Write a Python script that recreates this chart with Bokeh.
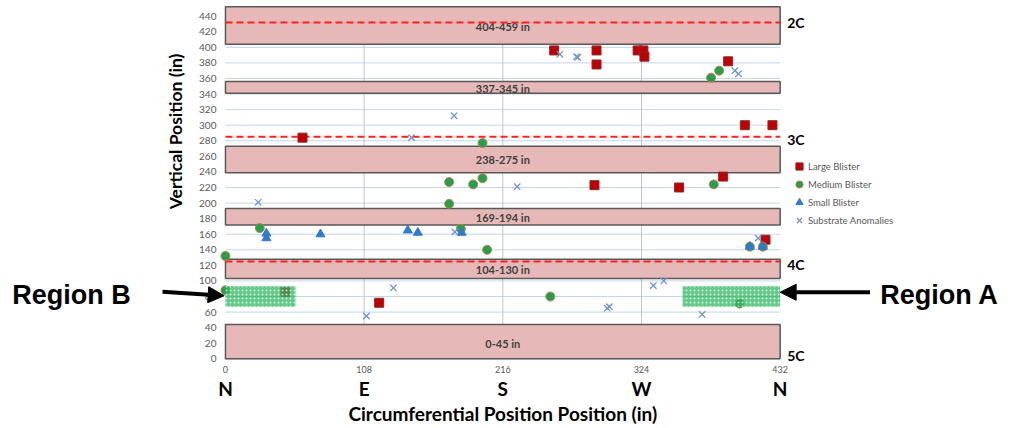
import math
from bokeh.plotting import figure
from bokeh.models import (Range1d, FixedTicker, LinearAxis, Label, Arrow, NormalHead,
                          Legend, LegendItem)
from bokeh.core.properties import value
from bokeh.embed import file_html
from bokeh.resources import INLINE

# ---------------- data ----------------
large_x = [60, 256, 289, 289, 321, 325.5, 326.3, 391.5, 404.5, 426, 287.4, 353.3, 387.6, 420.6, 119.7, 46.7]
large_y = [284, 396, 396, 378, 396, 396, 388, 382, 300, 300, 223, 220, 234, 153, 72, 86]

medium_x = [378.2, 384.5, 380.3, 174.2, 192.9, 200.2, 200.2, 174.2, 26.7, 0, 203.8, 183.3, 0, 253, 400.3, 408.4, 418.5]
medium_y = [361, 370, 224, 227, 224, 232, 277, 199, 168, 132, 140, 167, 88, 80, 71, 144, 144]

small_x = [31.9, 31.9, 74, 142, 149.8, 184, 408.4, 418.5]
small_y = [161, 155, 160, 165, 162, 162, 144, 144]

subst_x = [178, 144.9, 260.4, 273.4, 274.4, 396.7, 399.5, 227.2, 25.5, 178.6, 130.8, 109.8, 297.3, 299, 333.3, 341.4, 371.3, 414.9]
subst_y = [312, 284, 391, 388, 387, 370, 366, 221, 201, 163, 91, 55, 65, 67, 94, 100, 57, 155]

band_labels = ["404-459 in", "337-345 in", "238-275 in", "169-194 in", "104-130 in", "0-45 in"]
band_bottom = [404, 341, 239, 172, 103, 0]
band_top = [452, 356, 273, 193, 128, 44]
band_label_y = [427, 347, 256, 182, 115, 20]

dash_y = [432, 285, 125]

ring_ticks = [432, 282, 121, 4]
ring_labels = ["2C", "3C", "4C", "5C"]

x_ticks = [0, 108, 216, 324, 432]
x_dir_labels = ["N", "E", "S", "W", "N"]
x_grid = [108, 216, 324]
y_ticks = [0, 20, 40, 60, 80, 100, 120, 140, 160, 180, 200, 220, 240, 260, 280, 300,
           320, 340, 360, 380, 400, 420, 440]

region_names = ["Region B", "Region A"]
region_left = [0, 356]
region_right = [54.5, 432]
region_bottom = [67, 67]
region_top = [93.6, 93.6]

# ---------------- figure ----------------
X0, X1 = 0, 432
p = figure(width=1010, height=425, x_range=Range1d(-175.2, 611.4), y_range=Range1d(-85.6, 460.1),
           output_backend="svg", toolbar_location=None,
           x_axis_location=None, y_axis_location=None,
           min_border=0)
p.outline_line_color = None
p.background_fill_color = "white"
p.xgrid.visible = False
p.ygrid.visible = False


def plain(ax):
    ax.axis_line_color = None
    ax.major_tick_line_color = None
    ax.minor_tick_line_color = None
    ax.major_tick_out = 0
    ax.major_tick_in = 0
    ax.minor_tick_out = 0
    return ax


# y axis at x = 0
ya = plain(LinearAxis(ticker=FixedTicker(ticks=y_ticks), fixed_location=X0))
ya.major_label_standoff = 9
ya.major_label_text_font = "Lato"
ya.major_label_text_font_size = "10px"
ya.major_label_text_color = "#595959"
p.add_layout(ya, "left")

# x axis (numbers) at y = 0
xa = plain(LinearAxis(ticker=FixedTicker(ticks=x_ticks), fixed_location=0))
xa.major_label_standoff = 7
xa.major_label_text_font = "Lato"
xa.major_label_text_font_size = "9px"
xa.major_label_text_color = "#595959"
p.add_layout(xa, "below")

# x axis (compass letters)
xa2 = plain(LinearAxis(ticker=FixedTicker(ticks=x_ticks), fixed_location=-23,
                       major_label_overrides={t: l for t, l in zip(x_ticks, x_dir_labels)}))
xa2.major_label_standoff = 0
xa2.major_label_text_font = "Lato"
xa2.major_label_text_font_style = "bold"
xa2.major_label_text_font_size = "19px"
xa2.major_label_text_color = "black"
p.add_layout(xa2, "below")

# right axis (ring labels) at x = 432
ra = plain(LinearAxis(ticker=FixedTicker(ticks=ring_ticks), fixed_location=X1,
                      major_label_overrides={t: l for t, l in zip(ring_ticks, ring_labels)}))
ra.major_label_standoff = 7
ra.major_label_text_font = "Lato"
ra.major_label_text_font_style = "bold"
ra.major_label_text_font_size = "14px"
ra.major_label_text_color = "black"
p.add_layout(ra, "right")

# grid lines (only inside the 0..432 x 0..452 area)
p.segment(x0=[X0] * len(y_ticks), x1=[X1] * len(y_ticks), y0=y_ticks, y1=y_ticks,
          line_color="#c5d5ea", line_width=1)
p.segment(x0=x_grid, x1=x_grid, y0=[0] * len(x_grid), y1=[452] * len(x_grid),
          line_color="#c0c4cc", line_width=1)

# bands
p.quad(left=[X0] * len(band_bottom), right=[X1] * len(band_bottom), bottom=band_bottom, top=band_top,
       fill_color="#e6b9b8", line_color="#595959", line_width=1.5)
p.text(x=[216] * len(band_labels), y=band_label_y, text=band_labels,
       text_align="center", text_baseline="middle", text_font=value("Lato"),
       text_font_style="bold", text_font_size="11px", text_color="#404040")

# dashed lines
p.segment(x0=[X0] * len(dash_y), x1=[X1] * len(dash_y), y0=dash_y, y1=dash_y,
          line_color="#ff2020", line_width=2, line_dash="7 4")

# points
r_large = p.scatter(large_x, large_y, marker="square", size=9, fill_color="#c00000",
                    line_color="#8a2b2b", line_width=1)
r_med = p.scatter(medium_x, medium_y, marker="circle", size=9, fill_color="#22a04b",
                  line_color="#c0804a", line_width=1)
r_small = p.scatter(small_x, small_y, marker="triangle", size=9, fill_color="#2e7bcf",
                    line_color="#2e7bcf", line_width=1)
r_sub = p.scatter(subst_x, subst_y, marker="x", size=9, line_color="#6c96cf", line_width=1.3)

# region boxes
p.quad(left=region_left, right=region_right, bottom=region_bottom, top=region_top,
       fill_color="#2fb562", fill_alpha=0.75, line_color=None,
       hatch_pattern="dot", hatch_color="white", hatch_alpha=0.7, hatch_scale=4, hatch_weight=1)

# legend
legend = Legend(items=[LegendItem(label="Large Blister", renderers=[r_large]),
                       LegendItem(label="Medium Blister", renderers=[r_med]),
                       LegendItem(label="Small Blister", renderers=[r_small]),
                       LegendItem(label="Substrate Anomalies", renderers=[r_sub])],
                location=(790, 196), orientation="vertical",
                background_fill_alpha=0, border_line_color=None,
                padding=0, margin=0, spacing=0, label_height=18, glyph_width=18, glyph_height=18,
                label_standoff=0, label_text_font="Lato", label_text_font_size="9.5px",
                label_text_color="#595959")
p.add_layout(legend, "center")

# axis titles
p.add_layout(Label(x=-39, y=292, text="Vertical Position (in)", angle=math.pi / 2,
                   text_align="center", text_baseline="middle", text_font="Lato",
                   text_font_style="bold", text_font_size="17.5px", text_color="black"))
p.add_layout(Label(x=216, y=-70, text="Circumferential Position Position (in)",
                   text_align="center", text_baseline="middle", text_font="Lato",
                   text_font_style="bold", text_font_size="19px", text_color="black"))

# region annotations
p.add_layout(Label(x=-166, y=82, text=region_names[0], text_align="left", text_baseline="middle",
                   text_font="Liberation Sans", text_font_style="bold", text_font_size="27px",
                   text_color="black"))
p.add_layout(Label(x=510, y=82, text=region_names[1], text_align="left", text_baseline="middle",
                   text_font="Liberation Sans", text_font_style="bold", text_font_size="27px",
                   text_color="black"))
p.add_layout(Arrow(end=NormalHead(size=16, fill_color="black", line_color="black"),
                   x_start=-49, y_start=86, x_end=-1, y_end=81, line_width=4, line_color="black"))
p.add_layout(Arrow(end=NormalHead(size=16, fill_color="black", line_color="black"),
                   x_start=502, y_start=85.5, x_end=432, y_end=85.5, line_width=4, line_color="black"))

open("out.html", "w").write(file_html(p, INLINE))
